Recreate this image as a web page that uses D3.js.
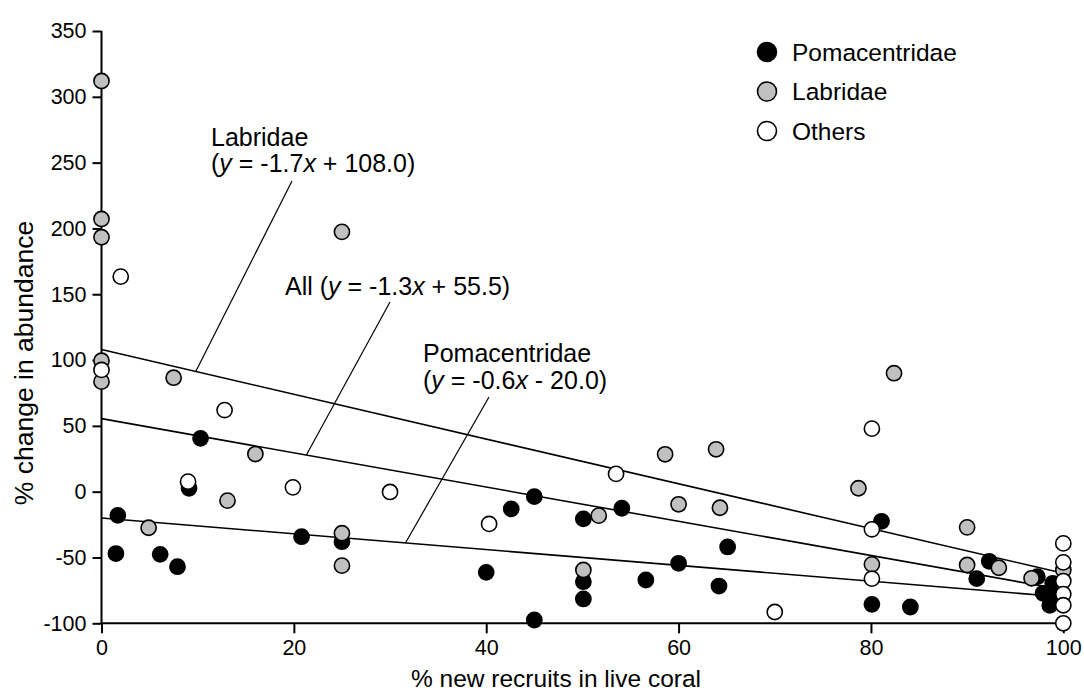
<!DOCTYPE html>
<html>
<head>
<meta charset="utf-8">
<script src="https://cdn.jsdelivr.net/npm/d3@7"></script>
<style>
  html, body { margin: 0; padding: 0; background: #fff; }
  svg { display: block; font-family: "Liberation Sans", Arial, Helvetica, sans-serif; }
</style>
</head>
<body>
<svg id="chart" width="1084" height="694"></svg>
<script>
// Pomacentridae: % new recruits in live coral (x) vs % change in abundance (y)
const pomaX = [1.7, 1.5, 6.1, 7.9, 9.1, 10.3, 20.8, 25.0, 40.0, 42.6, 45.0, 45.0, 50.1, 50.1, 50.1, 54.1, 56.6, 60.0, 64.2, 65.1, 80.1, 81.1, 84.1, 91.0, 92.3, 97.3, 98.9, 97.9, 98.6, 99.3];
const pomaY = [-18, -47, -47.6, -57, 2.6, 40.5, -34.2, -38, -61.3, -13.1, -3.8, -97.5, -20.7, -68.4, -81.5, -12.6, -67.1, -54.4, -71.7, -42.0, -85.6, -22.5, -87.6, -66.1, -52.9, -64.6, -69.6, -77.2, -86.4, -79.8];

// Labridae
const labrX = [0, 0, 0, 0, 0, 7.5, 4.9, 13.1, 16.0, 25.0, 25.0, 25.0, 50.1, 51.7, 58.6, 60.0, 63.9, 64.3, 78.7, 80.1, 82.4, 90.0, 90.0, 93.3, 96.7, 100];
const labrY = [312, 207.2, 193.3, 99.5, 83.6, 86.6, -27.4, -6.8, 28.6, 197.4, -31.6, -56.2, -59.5, -18.2, 28.4, -9.6, 32.2, -12.2, 2.6, -55.2, 90.0, -27.1, -55.7, -57.8, -65.8, -59.5];

// Other families
const othX = [2.0, 0, 9.0, 12.8, 19.9, 30.0, 40.3, 53.5, 70.0, 80.1, 80.1, 80.1, 100, 100, 100, 100, 100, 100];
const othY = [163.4, 92.5, 7.6, 62, 3.3, -0.2, -24.5, 13.5, -91.4, 47.9, -28.6, -66.1, -39.3, -53.7, -67.9, -77.8, -86.3, -100];

// Fitted regressions: slope, intercept
const fitNames = ["Labridae", "All", "Pomacentridae"];
const fitSlopes = [-1.7, -1.3, -0.6];
const fitIntercepts = [108.0, 55.5, -20.0];

// Axis ticks
const xTicks = [0, 20, 40, 60, 80, 100];
const yTicks = [-100, -50, 0, 50, 100, 150, 200, 250, 300, 350];

// Legend entries
const legendNames = ["Pomacentridae", "Labridae", "Others"];
const legendFills = ["#000000", "#c0c0c0", "#ffffff"];

const svg = d3.select("#chart");
const x = d3.scaleLinear().domain([0, 100]).range([101.5, 1063.3]);
const y = d3.scaleLinear().domain([-100, 350]).range([623.3, 31]);

// Axes (plain hyphen for negative labels)
const fmt = d => String(d);
const xAxis = d3.axisBottom(x).tickValues(xTicks).tickSize(10).tickPadding(6).tickFormat(fmt);
const yAxis = d3.axisLeft(y).tickValues(yTicks).tickSize(9).tickPadding(6).tickFormat(fmt);

const gx = svg.append("g").attr("transform", `translate(0,${y(-100)})`).call(xAxis);
const gy = svg.append("g").attr("transform", `translate(${x(0)},0)`).call(yAxis);
[gx, gy].forEach(g => {
  g.select(".domain").attr("stroke", "#000").attr("stroke-width", 2);
  g.selectAll(".tick line").attr("stroke", "#000").attr("stroke-width", 2);
  g.selectAll(".tick text").attr("fill", "#000").attr("font-size", 21.5)
    .attr("font-family", "Liberation Sans, Arial, sans-serif");
});
// plain axis lines without end caps
gx.select(".domain").attr("d", `M${x(0)},0H${x(100)}`);
gy.select(".domain").attr("d", `M0,${y(350)}V${y(-100)}`);

// Regression lines
const fitG = svg.append("g");
fitNames.forEach((n, i) => {
  const f = v => fitSlopes[i] * v + fitIntercepts[i];
  fitG.append("line")
    .attr("x1", x(0)).attr("y1", y(f(0)))
    .attr("x2", x(100)).attr("y2", y(f(100)))
    .attr("stroke", "#000").attr("stroke-width", 1.6);
});

// Labels for the fitted lines with leader lines
const notes = [
  { name: "Labridae", lines: ["Labridae", ["(", "y", " = -1.7", "x", " + 108.0)"]], size: 25, tx: 211, ty: 145.5, dy: 26.5, at: 9.8, lx: 292, ly: 181 },
  { name: "All", lines: [["All (", "y", " = -1.3", "x", " + 55.5)"]], size: 25, tx: 285, ty: 295, dy: 26.5, at: 21.3, lx: 390, ly: 302 },
  { name: "Pomacentridae", lines: ["Pomacentridae", ["(", "y", " = -0.6", "x", " - 20.0)"]], size: 25, tx: 423, ty: 362, dy: 26.5, at: 31.6, lx: 489, ly: 397 }
];
const noteG = svg.append("g");
notes.forEach(nt => {
  const i = fitNames.indexOf(nt.name);
  nt.lines.forEach((ln, k) => {
    const t = noteG.append("text").attr("x", nt.tx).attr("y", nt.ty + k * nt.dy).attr("font-size", nt.size);
    if (typeof ln === "string") t.text(ln);
    else ln.forEach((part, j) => t.append("tspan").attr("font-style", j % 2 === 1 ? "italic" : "normal").text(part));
  });
  const v = nt.at;
  noteG.append("line")
    .attr("x1", nt.lx).attr("y1", nt.ly)
    .attr("x2", x(v)).attr("y2", y(fitSlopes[i] * v + fitIntercepts[i]))
    .attr("stroke", "#000").attr("stroke-width", 1.2);
});

// Points: black first, then grey, then white on top
const series = [
  { xs: pomaX, ys: pomaY, fill: legendFills[0] },
  { xs: labrX, ys: labrY, fill: legendFills[1] },
  { xs: othX, ys: othY, fill: legendFills[2] }
];
series.forEach(s => {
  svg.append("g").selectAll("circle")
    .data(s.xs.map((v, i) => [v, s.ys[i]]))
    .join("circle")
    .attr("cx", d => x(d[0])).attr("cy", d => y(d[1]))
    .attr("r", 7.6)
    .attr("fill", s.fill).attr("stroke", "#000").attr("stroke-width", 1.6);
});

// Legend
const leg = svg.append("g").attr("font-size", 24.5);
legendNames.forEach((n, i) => {
  const cy = 52 + i * 39.5;
  leg.append("circle").attr("cx", 767).attr("cy", cy).attr("r", 9.5)
    .attr("fill", legendFills[i]).attr("stroke", "#000").attr("stroke-width", 1.6);
  leg.append("text").attr("x", 792).attr("y", cy + 8.5).text(n);
});

// Axis titles
svg.append("text").attr("x", 556).attr("y", 687).attr("text-anchor", "middle")
  .attr("font-size", 24.5).text("% new recruits in live coral");
svg.append("text").attr("transform", `translate(33,363) rotate(-90)`).attr("text-anchor", "middle")
  .attr("font-size", 26.5).text("% change in abundance");
</script>
</body>
</html>
